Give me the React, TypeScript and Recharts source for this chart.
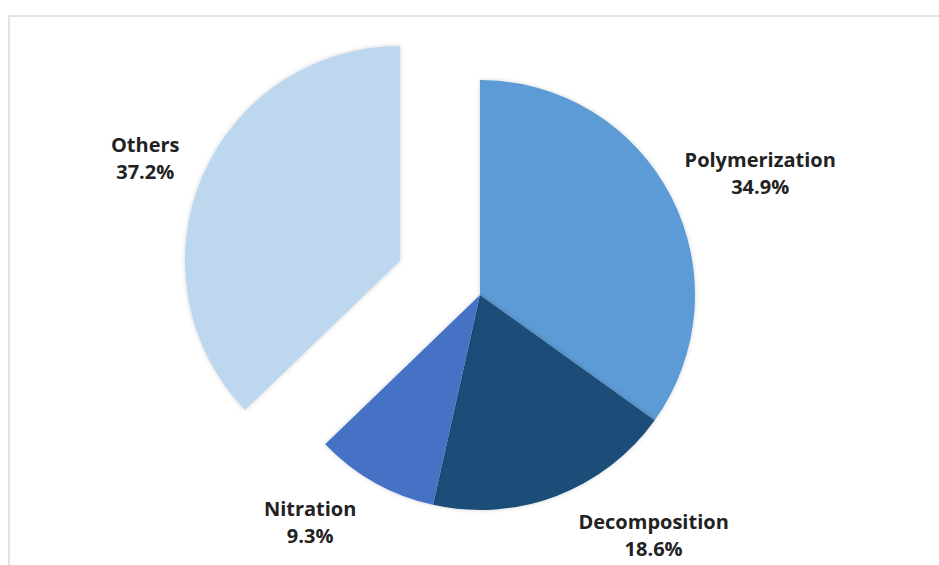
import React from 'react';
import { PieChart, Pie, Cell } from 'recharts';

const categories = ['Polymerization', 'Decomposition', 'Nitration', 'Others'];
const shares = [34.9, 18.6, 9.3, 37.2];
const colors = ['#5B9BD5', '#1F4E79', '#4472C4', '#BDD7EE'];

const data = categories.map((name, i) => ({ name, value: shares[i] }));

const W = 939;
const H = 565;
const CX = 480;
const CY = 295;
const R = 215;
const EXPLODE = 87;
const EXPLODED = 'Others';
const RADIAN = Math.PI / 180;

// label nudges (layout only)
const NUDGE: Record<string, [number, number]> = {
  Polymerization: [7, -2],
  Decomposition: [66, -6],
  Nitration: [-32, -2],
  Others: [-10, 0],
};

const total = shares.reduce((a, b) => a + b, 0);
const exIdx = categories.indexOf(EXPLODED);
const before = shares.slice(0, exIdx).reduce((a, b) => a + b, 0);
const exMid = 90 - ((before + shares[exIdx] / 2) / total) * 360;
const EX_CX = CX + EXPLODE * Math.cos(-exMid * RADIAN);
const EX_CY = CY + EXPLODE * Math.sin(-exMid * RADIAN);

const makeLabel = (only: boolean) => (props: any) => {
  const { cx, cy, midAngle, outerRadius, name, value } = props;
  const isEx = name === EXPLODED;
  if (only !== isEx) return null;
  const dx = Math.cos(-midAngle * RADIAN);
  const dy = Math.sin(-midAngle * RADIAN);
  const gap = 20;
  const w = name.length * 10.3;
  const h = 56;
  const n = NUDGE[name] || [0, 0];
  const lx = cx + dx * (outerRadius + gap) + dx * (w / 2) + n[0];
  const ly = cy + dy * (outerRadius + gap) + dy * (h / 2) + n[1];
  return (
    <text
      x={lx}
      y={ly}
      textAnchor="middle"
      fill="#222222"
      fontFamily="'Open Sans', sans-serif"
      fontWeight={700}
      fontSize={20}
    >
      <tspan x={lx} y={ly - 13.5} dominantBaseline="central">{name}</tspan>
      <tspan x={lx} y={ly + 13.5} dominantBaseline="central">{`${value}%`}</tspan>
    </text>
  );
};

export default function App() {
  return (
    <div style={{ position: 'absolute', left: 0, top: 0, width: W, height: H, background: '#fff', overflow: 'hidden' }}>
      <div
        style={{
          position: 'absolute',
          left: 8,
          top: 15,
          width: W,
          height: H,
          borderTop: '2px solid #e3e3e3',
          borderLeft: '2px solid #e3e3e3',
        }}
      />
      <div style={{ position: 'absolute', left: 0, top: 0 }}>
        <PieChart width={W} height={H} margin={{ top: 0, right: 0, bottom: 0, left: 0 }}>
          <defs>
            <filter id="soft" x="-20%" y="-20%" width="140%" height="140%">
              <feDropShadow dx="0" dy="0" stdDeviation="2" floodColor="#000" floodOpacity="0.18" />
            </filter>
          </defs>
          <Pie
            data={data}
            dataKey="value"
            nameKey="name"
            cx={CX}
            cy={CY}
            outerRadius={R}
            startAngle={90}
            endAngle={-270}
            stroke="none"
            labelLine={false}
            label={makeLabel(false)}
            isAnimationActive={false}
            style={{ filter: 'url(#soft)' }}
          >
            {data.map((d, i) => (
              <Cell key={d.name} fill={d.name === EXPLODED ? 'none' : colors[i]} stroke="none" />
            ))}
          </Pie>
          <Pie
            data={data}
            dataKey="value"
            nameKey="name"
            cx={EX_CX}
            cy={EX_CY}
            outerRadius={R}
            startAngle={90}
            endAngle={-270}
            stroke="none"
            labelLine={false}
            label={makeLabel(true)}
            isAnimationActive={false}
            style={{ filter: 'url(#soft)' }}
          >
            {data.map((d, i) => (
              <Cell key={d.name} fill={d.name === EXPLODED ? colors[i] : 'none'} stroke="none" />
            ))}
          </Pie>
        </PieChart>
      </div>
    </div>
  );
}
